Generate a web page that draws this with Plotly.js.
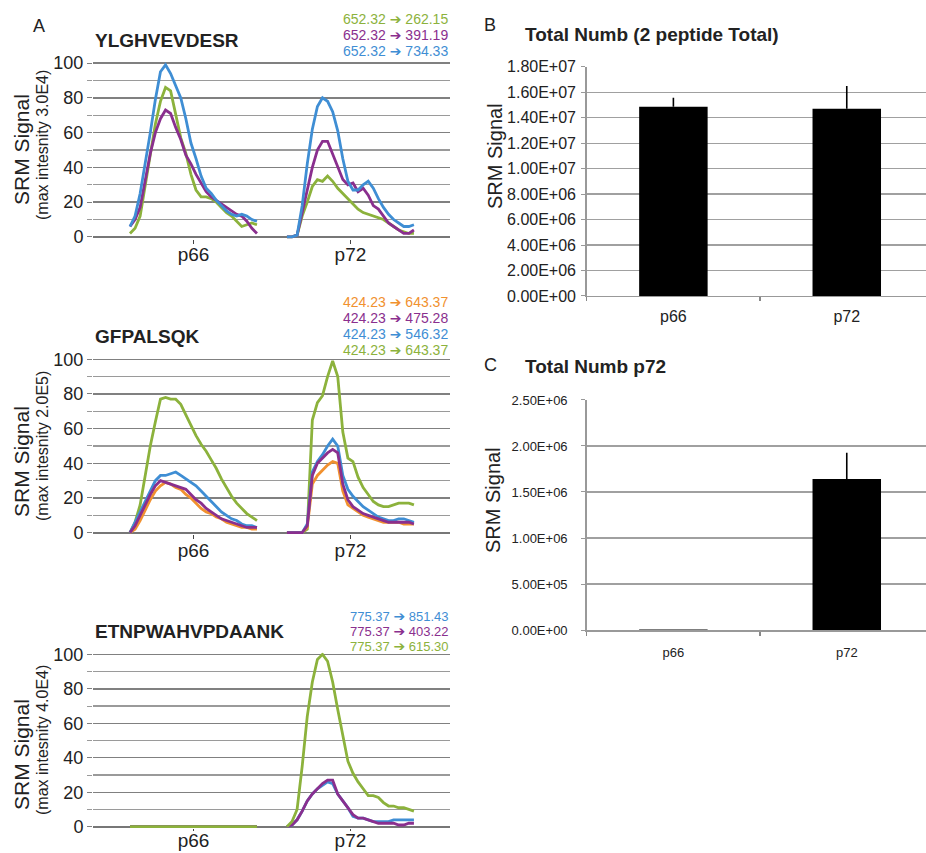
<!DOCTYPE html>
<html>
<head>
<meta charset="utf-8">
<script src="https://cdn.plot.ly/plotly-3.0.1.min.js"></script>
<style>html,body{margin:0;padding:0;background:#fff;}#chart{width:926px;height:853px;}</style>
</head>
<body>
<div id="chart"></div>
<script>
// ---------- Panel A data (relative SRM signal, % of max) ----------
const categoriesA = ['p66', 'p72'];

// YLGHVEVDESR (max intensity 3.0E4)
const ylg_262_p66 = [2,5,12,30,48,65,78,86,84,70,57,48,36,27,23,23,22,20,17,14,12,9,6,7,8,7];
const ylg_262_p72 = [0,0,1,12,20,29,33,32,35,32,28,25,22,19,16,14,13,12,11,10,8,6,4,3,2,2];
const ylg_391_p66 = [6,10,17,32,48,60,68,73,71,63,56,47,42,36,31,26,23,21,19,17,15,13,12,9,5,2];
const ylg_391_p72 = [0,0,1,14,28,40,50,55,55,48,40,33,30,31,26,28,24,18,16,12,8,6,4,2,2,4];
const ylg_734_p66 = [6,12,25,42,60,79,95,99,94,87,80,68,54,45,35,28,25,21,18,15,13,12,13,12,10,9];
const ylg_734_p72 = [0,0,1,18,42,62,75,80,78,72,61,45,32,27,27,30,32,28,22,17,13,10,8,6,6,7];

// GFPALSQK (max intensity 2.0E5)
const gfp_o643_p66 = [0,2,7,13,19,24,27,29,28,26,25,22,20,17,14,12,11,9,8,6,5,4,3,3,2,2];
const gfp_o643_p72 = [0,0,0,0,3,28,33,36,39,41,40,24,16,14,12,10,9,8,7,6,6,6,6,5,5,5];
const gfp_475_p66 = [0,4,10,16,22,27,30,29,28,27,26,25,22,19,17,14,12,10,8,7,6,5,4,3,3,3];
const gfp_475_p72 = [0,0,0,0,4,33,40,43,46,48,46,28,19,15,13,11,10,9,8,7,6,6,6,6,6,5];
const gfp_546_p66 = [0,6,12,18,24,30,33,33,34,35,33,31,29,27,24,21,18,15,12,10,8,7,5,4,4,3];
const gfp_546_p72 = [0,0,0,0,5,35,41,45,50,54,50,33,25,21,18,15,13,11,9,8,7,7,8,8,7,6];
const gfp_g643_p66 = [0,6,16,34,50,64,77,78,77,77,74,68,62,56,51,47,42,37,31,26,21,17,14,11,9,7];
const gfp_g643_p72 = [0,0,0,0,2,65,75,79,90,99,90,58,43,41,32,26,22,18,16,15,15,16,17,17,17,16];

// ETNPWAHVPDAANK (max intensity 4.0E4)
const etn_851_p66 = [0,0,0,0,0,0,0,0,0,0,0,0,0,0,0,0,0,0,0,0,0,0,0,0,0,0];
const etn_851_p72 = [0,1,4,9,15,19,22,24,26,25,19,15,11,6,5,5,4,3,3,3,3,4,4,4,4,4];
const etn_403_p66 = [0,0,0,0,0,0,0,0,0,0,0,0,0,0,0,0,0,0,0,0,0,0,0,0,0,0];
const etn_403_p72 = [0,1,4,9,15,19,22,25,27,27,19,15,11,7,5,5,4,3,2,2,2,2,1,1,2,2];
const etn_615_p66 = [0,0,0,0,0,0,0,0,0,0,0,0,0,0,0,0,0,0,0,0,0,0,0,0,0,0];
const etn_615_p72 = [0,3,10,35,64,84,97,100,96,84,68,52,38,31,26,22,18,18,17,14,12,12,11,11,10,9];

const yTicksA = [0, 20, 40, 60, 80, 100];

// ---------- Panel B / C data ----------
const categoriesBC = ['p66', 'p72'];
const totalNumb = [1.486e7, 1.470e7];
const totalNumbErr = [7.1e5, 1.78e6];
const totalP72 = [8.0e3, 1.641e6];
const totalP72Err = [0, 2.86e5];
const yTicksB = [0, 2e6, 4e6, 6e6, 8e6, 1e7, 1.2e7, 1.4e7, 1.6e7, 1.8e7];
const yTickTextB = ['0.00E+00','2.00E+06','4.00E+06','6.00E+06','8.00E+06','1.00E+07','1.20E+07','1.40E+07','1.60E+07','1.80E+07'];
const yTicksC = [0, 5e5, 1e6, 1.5e6, 2e6, 2.5e6];
const yTickTextC = ['0.00E+00','5.00E+05','1.00E+06','1.50E+06','2.00E+06','2.50E+06'];

// ---------- styling ----------
const C_GREEN = '#8cb23c', C_PURPLE = '#8a2f8e', C_BLUE = '#3f8ed4', C_ORANGE = '#f1912f';
const FONT = 'Liberation Sans, Arial, Helvetica, sans-serif';
const OFF66 = 0, OFF72 = 30.9;      // sample offsets of the two runs on the time axis
const W = 926, H = 853;
const ARROW = ' <span style="font-family:DejaVu Sans;font-size:14px">\u2794</span> ';

function xs(arr, off) { return arr.map((_, i) => off + i); }
function line(arr, off, color, ax) {
  return {type: 'scatter', mode: 'lines', x: xs(arr, off), y: arr,
          line: {color: color, width: 2.8}, xaxis: 'x' + ax, yaxis: 'y' + ax,
          hoverinfo: 'skip', showlegend: false};
}

const traces = [];
[[ylg_262_p66, ylg_262_p72, C_GREEN], [ylg_391_p66, ylg_391_p72, C_PURPLE], [ylg_734_p66, ylg_734_p72, C_BLUE]]
  .forEach(s => { traces.push(line(s[0], OFF66, s[2], '')); traces.push(line(s[1], OFF72, s[2], '')); });
[[gfp_g643_p66, gfp_g643_p72, C_GREEN], [gfp_o643_p66, gfp_o643_p72, C_ORANGE], [gfp_546_p66, gfp_546_p72, C_BLUE], [gfp_475_p66, gfp_475_p72, C_PURPLE]]
  .forEach(s => { traces.push(line(s[0], OFF66, s[2], '2')); traces.push(line(s[1], OFF72, s[2], '2')); });
[[etn_851_p66, etn_851_p72, C_BLUE], [etn_403_p66, etn_403_p72, C_PURPLE], [etn_615_p66, etn_615_p72, C_GREEN]]
  .forEach(s => { traces.push(line(s[0], OFF66, s[2], '3')); traces.push(line(s[1], OFF72, s[2], '3')); });

traces.push({type: 'bar', x: categoriesBC, y: totalNumb, width: 0.395, xaxis: 'x4', yaxis: 'y4',
  marker: {color: '#000', line: {width: 0}}, hoverinfo: 'skip', showlegend: false,
  error_y: {type: 'data', array: totalNumbErr, arrayminus: [0, 0], symmetric: false, color: '#000', thickness: 1.6, width: 0}});
traces.push({type: 'bar', x: categoriesBC, y: totalP72, width: 0.395, xaxis: 'x5', yaxis: 'y5',
  marker: {color: ['#555', '#000'], line: {width: 0}}, hoverinfo: 'skip', showlegend: false,
  error_y: {type: 'data', array: totalP72Err, arrayminus: [0, 0], symmetric: false, color: '#000', thickness: 1.6, width: 0}});

function py(px) { return 1 - px / H; }
function pxx(px) { return px / W; }

const mid = 12.5;
function xA(anchor, standoff, tlen) {
  return {domain: [pxx(93), pxx(450)], range: [-7.28, 63.0], anchor: anchor,
    tickmode: 'array', tickvals: [OFF66 + mid, OFF72 + mid], ticktext: categoriesA,
    ticks: 'outside', ticklen: tlen, tickwidth: 1.5, tickcolor: '#444', ticklabelstandoff: standoff,
    tickfont: {family: FONT, size: 19, color: '#222'},
    showgrid: false, zeroline: false, showline: false, fixedrange: true};
}
function yA(dom, anchor) {
  return {domain: dom, range: [-1, 101], anchor: anchor,
    tickmode: 'array', tickvals: yTicksA,
    showgrid: true, gridcolor: '#808080', gridwidth: 1.4,
    minor: {dtick: 10, showgrid: true, gridcolor: '#9a9a9a', gridwidth: 1.3, ticks: 'outside', ticklen: 5, tickcolor: '#9a9a9a'},
    zeroline: true, zerolinecolor: '#777', zerolinewidth: 2,
    ticks: 'outside', ticklen: 5, tickcolor: '#808080',
    tickfont: {family: FONT, size: 18, color: '#222'},
    showline: false, fixedrange: true};
}
function xBar(anchor, fs, standoff) {
  return {domain: [pxx(586.7), 1], type: 'category', range: [-0.5, 1.457], anchor: anchor,
    tickson: 'boundaries', ticks: 'outside', ticklen: 4, tickcolor: '#888', tickwidth: 1.3,
    ticklabelstandoff: standoff,
    showline: true, linecolor: '#999', linewidth: 1.5, showgrid: false, zeroline: false,
    tickfont: {family: FONT, size: fs, color: '#222'}, fixedrange: true};
}
function yBar(dom, anchor, range, tv, tt, fs, standoff) {
  return {domain: dom, range: range, anchor: anchor, tickmode: 'array', tickvals: tv, ticktext: tt,
    showgrid: true, gridcolor: '#a0a0a0', gridwidth: 1.2, zeroline: false,
    showline: true, linecolor: '#999', linewidth: 1.5,
    ticks: 'outside', ticklen: 4, tickcolor: '#999', ticklabelstandoff: standoff,
    tickfont: {family: FONT, size: fs, color: '#222'}, fixedrange: true};
}

function txt(text, x, y, opts) {
  return Object.assign({text: text, x: pxx(x), y: py(y), xref: 'paper', yref: 'paper',
    showarrow: false, xanchor: 'center', yanchor: 'middle',
    font: {family: FONT, size: 14, color: '#222'}}, opts || {});
}
function trans(a, b, y, color, size) {
  return txt(a + ARROW + b, 450, y, {xanchor: 'right', font: {family: FONT, size: size || 14, color: color}});
}
function bold(text, x, y) {
  return txt('<b>' + text + '</b>', x, y, {xanchor: 'left', font: {family: FONT, size: 19, color: '#222'}});
}
function vt(text, x, y, size) {
  return txt(text, x, y, {textangle: -90, font: {family: FONT, size: size, color: '#222'}});
}

const annotations = [
  txt('A', 39, 26, {font: {family: FONT, size: 18, color: '#222'}}),
  bold('YLGHVEVDESR', 93, 40),
  trans('652.32', '262.15', 19, C_GREEN),
  trans('652.32', '391.19', 35, C_PURPLE),
  trans('652.32', '734.33', 51, C_BLUE),
  vt('SRM Signal', 21, 150, 21),
  vt('(max intesnity 3.0E4)', 42, 145, 16),

  bold('GFPALSQK', 93, 336),
  trans('424.23', '643.37', 302, C_ORANGE),
  trans('424.23', '475.28', 318, C_PURPLE),
  trans('424.23', '546.32', 334, C_BLUE),
  trans('424.23', '643.37', 350, C_GREEN),
  vt('SRM Signal', 21, 462, 21),
  vt('(max intesnity 2.0E5)', 42, 446, 16),

  bold('ETNPWAHVPDAANK', 93, 631),
  trans('775.37', '851.43', 616, C_BLUE, 13),
  trans('775.37', '403.22', 631, C_PURPLE, 13),
  trans('775.37', '615.30', 646, C_GREEN, 13),
  vt('SRM Signal', 21, 755, 21),
  vt('(max intesnity 4.0E4)', 42, 740, 16),

  txt('B', 490, 25, {font: {family: FONT, size: 18, color: '#222'}}),
  bold('Total Numb (2 peptide Total)', 523, 35),
  vt('SRM Signal', 495, 156, 20),

  txt('C', 490, 365, {font: {family: FONT, size: 18, color: '#222'}}),
  bold('Total Numb p72', 523, 366),
  vt('SRM Signal', 493, 500, 20)
];

const layout = {
  width: W, height: H, margin: {l: 0, r: 0, t: 0, b: 0},
  paper_bgcolor: '#fff', plot_bgcolor: 'rgba(0,0,0,0)',
  showlegend: false, hovermode: false,
  font: {family: FONT, color: '#222'},
  xaxis: xA('y', -5, 4), yaxis: yA([0.7202, 0.9281], 'x'),
  xaxis2: xA('y2', -5, 4), yaxis2: yA([0.3735, 0.5808], 'x2'),
  xaxis3: xA('y3', -7, 2), yaxis3: yA([0.0288, 0.2349], 'x3'),
  xaxis4: xBar('y4', 16, 5), yaxis4: yBar([0.6530, 0.9218], 'x4', [0, 1.8e7], yTicksB, yTickTextB, 16, 2),
  xaxis5: xBar('y5', 13, 10), yaxis5: yBar([0.2614, 0.5311], 'x5', [0, 2.5e6], yTicksC, yTickTextC, 13, 11),
  annotations: annotations
};

Plotly.newPlot('chart', traces, layout, {staticPlot: true, displayModeBar: false});
</script>
</body>
</html>
